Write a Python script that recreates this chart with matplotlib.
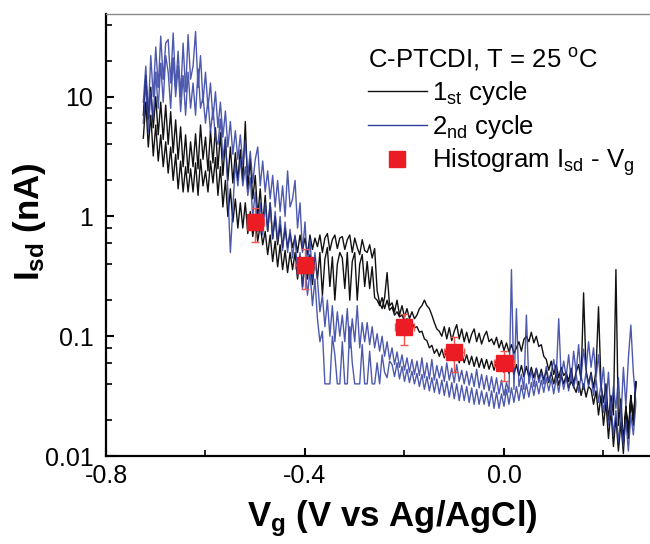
import numpy as np
import matplotlib
matplotlib.use("Agg")
import matplotlib.pyplot as plt
from matplotlib.lines import Line2D
from matplotlib.ticker import LogLocator, FixedLocator, NullFormatter

plt.rcParams['font.family'] = ['Liberation Sans', 'DejaVu Sans']
plt.rcParams['mathtext.fontset'] = 'custom'
plt.rcParams['mathtext.rm'] = 'Liberation Sans'
plt.rcParams['mathtext.it'] = 'Liberation Sans'
plt.rcParams['mathtext.bf'] = 'Liberation Sans:bold'
plt.rcParams['mathtext.default'] = 'regular'

# gate voltage sweep grid (V vs Ag/AgCl), 0.005 V steps
v_start, v_stop, n_pts = -0.725, 0.265, 199

# 1st cycle, two branches (nA)
black_a = [
    7, 15, 6.5, 12, 5.5, 10, 4.8, 9, 4.4, 8.5,
    4.0, 7.5, 3.4, 6.4, 3.0, 5.6, 2.6, 4.8, 2.3, 4.2,
    2.6, 4.9, 2.5, 5.8, 3.0, 4.6, 2.4, 5.2, 2.8, 5.5,
    2.5, 5.0, 2.2, 4.4, 2.0, 3.8, 1.9, 3.4, 2.0, 3.6,
    2.0, 6.2, 1.7, 3.0, 1.4, 2.2, 1.0, 1.7, 0.85, 1.5,
    0.75, 1.3, 0.65, 1.0, 0.58, 0.85, 0.55, 0.8, 0.55, 0.72,
    0.55, 0.68, 0.5, 0.7, 0.52, 0.66, 0.48, 0.7, 0.53, 0.66,
    0.56, 0.7, 0.5, 0.66, 0.72, 0.52, 0.64, 0.7, 0.54, 0.66,
    0.68, 0.53, 0.64, 0.7, 0.5, 0.66, 0.55, 0.48, 0.64, 0.52,
    0.5, 0.58, 0.45, 0.54, 0.24, 0.19, 0.17, 0.21, 0.34, 0.18,
    0.19, 0.16, 0.2, 0.15, 0.18, 0.145, 0.17, 0.14, 0.16, 0.14,
    0.15, 0.17, 0.18, 0.2, 0.18, 0.17, 0.15, 0.13, 0.115, 0.11,
    0.1, 0.12, 0.095, 0.118, 0.092, 0.11, 0.125, 0.095, 0.115, 0.09,
    0.108, 0.088, 0.104, 0.115, 0.09, 0.106, 0.086, 0.1, 0.11, 0.09,
    0.095, 0.085, 0.098, 0.08, 0.092, 0.076, 0.088, 0.074, 0.085, 0.072,
    0.08, 0.09, 0.075, 0.094, 0.1, 0.09, 0.108, 0.088, 0.1, 0.082,
    0.085, 0.068, 0.064, 0.052, 0.062, 0.048, 0.058, 0.045, 0.055, 0.047,
    0.05, 0.042, 0.054, 0.04, 0.05, 0.058, 0.043, 0.23, 0.052, 0.04,
    0.05, 0.037, 0.052, 0.176, 0.04, 0.028, 0.04, 0.02, 0.032, 0.022,
    0.36, 0.018, 0.03, 0.013, 0.026, 0.016, 0.032, 0.02, 0.038,
]
black_b = [
    4.5, 9, 3.8, 7, 3.2, 5.8, 2.9, 4.8, 2.6, 4.2,
    2.3, 3.8, 2.0, 3.3, 1.7, 2.9, 1.6, 2.6, 1.6, 2.5,
    1.6, 2.8, 1.5, 3.0, 1.8, 2.4, 1.6, 2.9, 1.9, 3.1,
    1.5, 2.6, 1.2, 2.0, 1.0, 1.7, 0.9, 1.4, 0.8, 1.3,
    0.8, 1.3, 0.72, 1.1, 0.68, 0.95, 0.62, 0.85, 0.58, 0.75,
    0.48, 0.7, 0.42, 0.62, 0.38, 0.58, 0.36, 0.52, 0.34, 0.5,
    0.36, 0.5, 0.3, 0.46, 0.26, 0.42, 0.3, 0.48, 0.27, 0.45,
    0.3, 0.5, 0.22, 0.44, 0.55, 0.26, 0.46, 0.2, 0.4, 0.5,
    0.45, 0.25, 0.5, 0.2, 0.42, 0.5, 0.2, 0.4, 0.48, 0.26,
    0.42, 0.25, 0.38, 0.21, 0.2, 0.18, 0.21, 0.17, 0.2, 0.165,
    0.175, 0.15, 0.16, 0.145, 0.15, 0.135, 0.14, 0.125, 0.13, 0.118,
    0.12, 0.108, 0.11, 0.095, 0.092, 0.08, 0.084, 0.072, 0.078, 0.068,
    0.078, 0.066, 0.08, 0.064, 0.076, 0.062, 0.074, 0.06, 0.072, 0.06,
    0.07, 0.058, 0.068, 0.056, 0.067, 0.055, 0.065, 0.054, 0.064, 0.053,
    0.062, 0.052, 0.064, 0.051, 0.061, 0.05, 0.06, 0.049, 0.059, 0.048,
    0.058, 0.047, 0.057, 0.046, 0.056, 0.046, 0.055, 0.045, 0.054, 0.044,
    0.053, 0.043, 0.052, 0.041, 0.05, 0.04, 0.049, 0.039, 0.048, 0.04,
    0.047, 0.037, 0.042, 0.038, 0.034, 0.042, 0.032, 0.04, 0.031, 0.038,
    0.036, 0.027, 0.035, 0.022, 0.032, 0.018, 0.028, 0.014, 0.024, 0.012,
    0.021, 0.011, 0.019, 0.0105, 0.026, 0.014, 0.032, 0.018, 0.042,
]
# 2nd cycle, two branches (nA)
blue_a = [
    9, 18, 7, 22, 10, 26, 12, 32, 14, 28,
    30, 13, 34, 12, 24, 10, 28, 11, 33, 14,
    18, 35, 12, 22, 9, 16, 8, 13, 6.5, 11,
    5.5, 9, 4.6, 7.6, 3.8, 6.2, 3.3, 5.2, 3.0, 4.8,
    2.7, 4.3, 2.2, 3.5, 1.9, 3.0, 3.8, 1.8, 2.9, 1.6,
    2.4, 1.4, 2.2, 1.2, 2.0, 1.1, 1.8, 1.0, 2.4, 1.2,
    1.4, 2.0, 0.8, 1.3, 0.5, 0.9, 0.38, 0.65, 0.3, 0.5,
    0.3, 0.16, 0.22, 0.12, 0.2, 0.1, 0.18, 0.09, 0.16, 0.1,
    0.15, 0.09, 0.17, 0.08, 0.14, 0.09, 0.18, 0.08, 0.13, 0.09,
    0.13, 0.085, 0.12, 0.08, 0.105, 0.075, 0.1, 0.068, 0.09, 0.064,
    0.08, 0.058, 0.074, 0.055, 0.07, 0.052, 0.066, 0.05, 0.064, 0.048,
    0.062, 0.047, 0.066, 0.045, 0.06, 0.044, 0.064, 0.043, 0.057, 0.045,
    0.056, 0.042, 0.06, 0.043, 0.054, 0.041, 0.058, 0.042, 0.052, 0.04,
    0.051, 0.039, 0.049, 0.038, 0.053, 0.037, 0.048, 0.036, 0.047, 0.035,
    0.046, 0.034, 0.045, 0.033, 0.043, 0.032, 0.041, 0.034, 0.36, 0.036,
    0.17, 0.038, 0.048, 0.036, 0.15, 0.04, 0.052, 0.038, 0.054, 0.041,
    0.05, 0.04, 0.056, 0.042, 0.05, 0.064, 0.046, 0.14, 0.045, 0.062,
    0.046, 0.07, 0.042, 0.075, 0.05, 0.085, 0.046, 0.078, 0.052, 0.09,
    0.055, 0.08, 0.045, 0.07, 0.036, 0.055, 0.027, 0.05, 0.022, 0.038,
    0.025, 0.045, 0.02, 0.055, 0.026, 0.065, 0.124, 0.05, 0.028,
]
blue_b = [
    6, 14, 5, 11, 6.5, 16, 8, 19, 9, 22,
    16, 8, 21, 10, 18, 7.5, 15, 7, 16, 8,
    13, 7, 17, 8, 10, 6, 9.5, 5, 8, 4.5,
    4, 6.5, 3, 4.6, 1.6, 0.5, 1.2, 2.8, 1.8, 3.0,
    1.8, 2.6, 1.5, 2.1, 1.0, 1.6, 0.75, 1.3, 0.7, 1.3,
    0.75, 1.3, 0.65, 1.1, 0.62, 1.0, 0.52, 0.9, 0.5, 0.78,
    0.45, 0.7, 0.32, 0.5, 0.25, 0.42, 0.22, 0.35, 0.18, 0.3,
    0.14, 0.09, 0.11, 0.04, 0.04, 0.04, 0.1, 0.07, 0.04, 0.04,
    0.09, 0.04, 0.04, 0.12, 0.06, 0.04, 0.04, 0.04, 0.085, 0.04,
    0.04, 0.075, 0.04, 0.04, 0.06, 0.04, 0.07, 0.05, 0.045, 0.062,
    0.058, 0.046, 0.06, 0.044, 0.056, 0.042, 0.053, 0.041, 0.051, 0.04,
    0.049, 0.038, 0.048, 0.036, 0.046, 0.035, 0.045, 0.034, 0.044, 0.033,
    0.043, 0.032, 0.042, 0.031, 0.041, 0.03, 0.04, 0.029, 0.039, 0.029,
    0.038, 0.028, 0.037, 0.027, 0.036, 0.027, 0.035, 0.027, 0.034, 0.026,
    0.035, 0.025, 0.034, 0.025, 0.033, 0.026, 0.036, 0.027, 0.037, 0.028,
    0.038, 0.029, 0.039, 0.03, 0.04, 0.031, 0.041, 0.032, 0.042, 0.033,
    0.043, 0.034, 0.045, 0.035, 0.044, 0.033, 0.045, 0.034, 0.047, 0.036,
    0.046, 0.035, 0.049, 0.037, 0.048, 0.034, 0.047, 0.036, 0.05, 0.038,
    0.048, 0.032, 0.044, 0.028, 0.04, 0.023, 0.033, 0.018, 0.028, 0.015,
    0.024, 0.013, 0.022, 0.012, 0.02, 0.011, 0.022, 0.015, 0.027,
]

# Histogram-derived points
hist_v = [-0.5, -0.4, -0.2, -0.1, 0.0]
hist_i = [0.90, 0.39, 0.12, 0.074, 0.060]
hist_lo = [0.61, 0.25, 0.085, 0.050, 0.042]
hist_hi = [1.18, 0.53, 0.153, 0.099, 0.075]
hist_dv = [0.017, 0.02, 0.02, 0.02, 0.02]

x_ticks = [-0.8, -0.4, 0.0]
x_tick_labels = ['-0.8', '-0.4', '0.0']
y_ticks = [0.01, 0.1, 1, 10]
y_tick_labels = ['0.01', '0.1', '1', '10']

BLACK = '#111111'
BLUE = '#2e3c9e'
RED = '#ec1c24'
ERR = '#f0554f'

v = np.linspace(v_start, v_stop, n_pts)
v_loop = np.concatenate([v, v[::-1]])

fig = plt.figure(figsize=(6.5, 5.44), dpi=100)
ax = fig.add_axes([106/650, 88/544, 544/650, 442/544])

ax.plot(v_loop, np.concatenate([black_a, black_b[::-1]]), color=BLACK, lw=1.0, zorder=2)
ax.plot(v_loop, np.concatenate([blue_a, blue_b[::-1]]), color=BLUE, lw=1.0, alpha=0.85, zorder=3)

hi = np.array(hist_hi); lo = np.array(hist_lo); hv = np.array(hist_i)
ax.errorbar(hist_v, hist_i, yerr=[hv - lo, hi - hv], xerr=hist_dv, fmt='none',
            ecolor=ERR, elinewidth=1.0, capsize=3, capthick=1.0, zorder=4)
ax.plot(hist_v, hist_i, 's', color=RED, ms=11, mec=RED, zorder=5, ls='none')

ax.set_yscale('log')
ax.set_xlim(-0.8, 0.2935)
ax.set_ylim(0.01, 49)

ax.xaxis.set_major_locator(FixedLocator(x_ticks))
ax.set_xticklabels(x_tick_labels)
ax.xaxis.set_minor_locator(FixedLocator([-0.6, -0.2, 0.2]))
ax.yaxis.set_major_locator(FixedLocator(y_ticks))
ax.set_yticklabels(y_tick_labels)
ax.yaxis.set_minor_locator(LogLocator(base=10, subs=(2, 4, 6, 8)))
ax.yaxis.set_minor_formatter(NullFormatter())

ax.tick_params(which='major', direction='in', length=6, width=1.5, labelsize=18, color='black')
ax.tick_params(which='minor', direction='in', length=4, width=1.2, color='black')
ax.tick_params(axis='x', which='major', pad=6)
ax.tick_params(axis='y', which='major', pad=9)

for s in ['left', 'bottom']:
    ax.spines[s].set_linewidth(1.6)
    ax.spines[s].set_color('black')
ax.spines['right'].set_visible(False)
ax.spines['top'].set_linewidth(1.0)
ax.spines['top'].set_color('#8a8a8a')

ax.set_xlabel('V$_{g}$ (V vs Ag/AgCl)', fontsize=25, fontweight='bold')
ax.xaxis.set_label_coords(0.527, -0.095)
ax.set_ylabel('I$_{sd}$ (nA)', fontsize=25, fontweight='bold')
ax.yaxis.set_label_coords(-0.107, 0.53)

handles = [Line2D([], [], color=BLACK, lw=1.0),
           Line2D([], [], color=BLUE, lw=1.0),
           Line2D([], [], color=RED, marker='s', ls='none', ms=11)]
labels = ['1$_{st}$ cycle', '2$_{nd}$ cycle', 'Histogram I$_{sd}$ - V$_{g}$']
leg = ax.legend(handles, labels, title='C-PTCDI, T = 25 $^{o}$C', loc='upper left',
                bbox_to_anchor=(0.481, 0.928), frameon=False, fontsize=18.5,
                title_fontsize=18.5, handlelength=2.3, handletextpad=0.2,
                labelspacing=0.23, borderpad=0, borderaxespad=0, alignment='left')

fig.savefig('out.png', dpi=100)
